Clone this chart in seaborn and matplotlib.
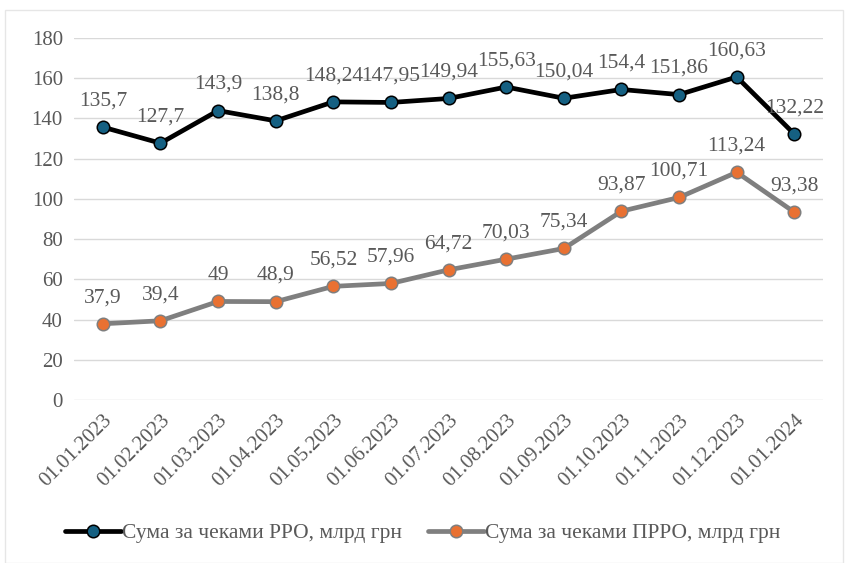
import pandas as pd
import seaborn as sns
import matplotlib.pyplot as plt
from matplotlib.patches import Rectangle

dates = ["01.01.2023", "01.02.2023", "01.03.2023", "01.04.2023", "01.05.2023",
         "01.06.2023", "01.07.2023", "01.08.2023", "01.09.2023", "01.10.2023",
         "01.11.2023", "01.12.2023", "01.01.2024"]
rro = [135.7, 127.7, 143.9, 138.8, 148.24, 147.95, 149.94, 155.63, 150.04,
       154.4, 151.86, 160.63, 132.22]
prro = [37.9, 39.4, 49, 48.9, 56.52, 57.96, 64.72, 70.03, 75.34, 93.87,
        100.71, 113.24, 93.38]
name_rro = "Сума за чеками РРО, млрд грн"
name_prro = "Сума за чеками ПРРО, млрд грн"

sns.set_style("white")
plt.rcParams['font.family'] = ['Liberation Serif', 'DejaVu Serif']
txt = "#595959"

df = pd.DataFrame({"date": dates * 2,
                   "value": rro + prro,
                   "series": [name_rro] * len(dates) + [name_prro] * len(dates)})

fig = plt.figure(figsize=(8.46, 5.63), dpi=100)
ax = fig.add_axes([0.0875, 0.2895, 0.8855, 0.643])

sns.lineplot(data=df[df.series == name_rro], x="date", y="value", ax=ax,
             color="black", lw=3.4, marker="o", ms=9, mfc="#156082",
             mec="black", mew=1.1, label=name_rro, sort=False)
sns.lineplot(data=df[df.series == name_prro], x="date", y="value", ax=ax,
             color="#7f7f7f", lw=3.4, marker="o", ms=9, mfc="#E97132",
             mec="#7f7f7f", mew=1.1, label=name_prro, sort=False)

def fmt(v):
    return ("%g" % v).replace(".", ",")

# data labels above each point
for i, (a, b) in enumerate(zip(rro, prro)):
    ax.annotate(fmt(a), (i, a), xytext=(0, 12), textcoords="offset points",
                ha="center", va="bottom", fontsize=15.5, color=txt)
    ax.annotate(fmt(b), (i, b), xytext=(0, 12), textcoords="offset points",
                ha="center", va="bottom", fontsize=15.5, color=txt)

ax.set_ylim(0, 180)
ax.set_yticks(range(0, 181, 20))
ax.set_xlim(-0.5, len(dates) - 0.5)
ax.grid(axis="y", color="#d9d9d9", lw=1)
ax.set_axisbelow(True)
for s in ax.spines.values():
    s.set_visible(False)
ax.set_xlabel("")
ax.set_ylabel("")
ax.tick_params(axis="both", length=0, labelsize=15, colors=txt, pad=8)
plt.setp(ax.get_xticklabels(), rotation=45, ha="right", rotation_mode="anchor")

ax.get_legend().remove()
h, l = ax.get_legend_handles_labels()
leg = fig.legend(h, l, loc="center", bbox_to_anchor=(0.5, 0.053), ncol=2,
                 frameon=False, fontsize=15.5, handlelength=2.6, handletextpad=0.05,
                 columnspacing=1.2)
for t in leg.get_texts():
    t.set_color(txt)

fig.patches.append(Rectangle((0.006, 0.0), 0.99, 0.982, transform=fig.transFigure,
                             fill=False, ec="#e6e6e6", lw=1))

fig.savefig("out.png", dpi=100)
